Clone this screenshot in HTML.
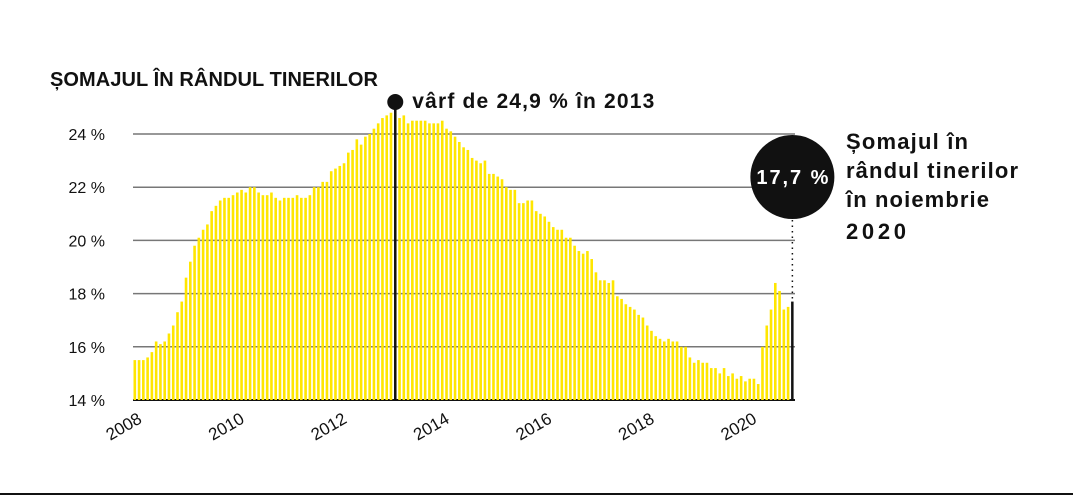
<!DOCTYPE html>
<html><head><meta charset="utf-8"><style>
body{margin:0;background:#fff;width:1073px;height:498px;overflow:hidden;font-family:"Liberation Sans",sans-serif}
</style></head><body>
<svg width="1073" height="498">
<text x="50" y="86" font-size="20" font-weight="bold" fill="#111" textLength="328">ȘOMAJUL ÎN RÂNDUL TINERILOR</text>
<g id="grid"></g><g id="bars"></g><g id="ylabels"></g><g id="xlabels"></g>
<line x1="0" y1="494" x2="1073" y2="494" stroke="#111" stroke-width="2"/>
<g id="ann"></g>
<text font-size="22" font-weight="bold" fill="#111"><tspan x="846" y="149" textLength="122">Șomajul în</tspan><tspan x="846" y="178" textLength="172">rândul tinerilor</tspan><tspan x="846" y="207" textLength="143">în noiembrie</tspan><tspan x="846" y="239" textLength="60">2020</tspan></text>
</svg>
<script>
const years=["2008","2009","2010","2011","2012","2013","2014","2015","2016","2017","2018","2019","2020"];
const yTicks=[14,16,18,20,22,24];
const yearLabels=["2008","2010","2012","2014","2016","2018","2020"];
const values=[15.5,15.5,15.5,15.6,15.8,16.2,16.1,16.2,16.5,16.8,17.3,17.7,
18.6,19.2,19.8,20.1,20.4,20.6,21.1,21.3,21.5,21.6,21.6,21.7,
21.8,21.9,21.8,22.0,22.0,21.8,21.7,21.7,21.8,21.6,21.5,21.6,
21.6,21.6,21.7,21.6,21.6,21.7,22.0,22.0,22.2,22.2,22.6,22.7,
22.8,22.9,23.3,23.4,23.8,23.6,23.9,24.0,24.2,24.4,24.6,24.7,
24.8,24.9,24.6,24.7,24.4,24.5,24.5,24.5,24.5,24.4,24.4,24.4,
24.5,24.2,24.1,23.9,23.7,23.5,23.4,23.1,23.0,22.9,23.0,22.5,
22.5,22.4,22.3,22.0,21.9,21.9,21.4,21.4,21.5,21.5,21.1,21.0,
20.9,20.7,20.5,20.4,20.4,20.1,20.1,19.8,19.6,19.5,19.6,19.3,
18.8,18.5,18.5,18.4,18.5,17.9,17.8,17.6,17.5,17.4,17.2,17.1,
16.8,16.6,16.4,16.3,16.2,16.3,16.2,16.2,16.0,16.0,15.6,15.4,
15.5,15.4,15.4,15.2,15.2,15.0,15.2,14.9,15.0,14.8,14.9,14.7,
14.8,14.8,14.6,16.0,16.8,17.4,18.4,18.1,17.4,17.5,17.7];
const peakValue=24.9, peakLabel="vârf de 24,9 % în 2013", lastLabel="17,7 %";
const NS="http://www.w3.org/2000/svg";
const x0=133,step=4.27,yb=400;
const y=v=>yb-(v-14)*26.6;
const x=i=>x0+i*step;
function mk(t,a,p){const e=document.createElementNS(NS,t);for(const k in a)e.setAttribute(k,a[k]);document.getElementById(p).appendChild(e);return e;}
yTicks.forEach(t=>{
 const l=mk('line',{x1:x0,x2:795,y1:y(t),y2:y(t),stroke:t==14?'#111':'#777','stroke-width':t==14?2:1.5},'grid');
 
 
 const tx=mk('text',{x:105,y:y(t)+6,'text-anchor':'end','font-size':16,fill:'#111'},'ylabels');
 tx.textContent=t+' %';
 
 
});
values.forEach((v,i)=>{
 const last=i==values.length-1;
 const r=mk('rect',{x:x(i)+0.5,y:y(v),width:last?2.5:2.6,height:yb-y(v),fill:last?'#111':'#ffe600'},'bars');
 
 
});
yearLabels.forEach(l=>{
 const i=years.indexOf(l)*12;
 const xx=x(i)+10, yy=yb+22;
 const t=mk('text',{x:xx,y:yy,'text-anchor':'end','font-size':17,fill:'#111',transform:`rotate(-30 ${xx} ${yy})`},'xlabels');
 t.textContent=l;
 
 
});
const pi=values.indexOf(peakValue), px=x(pi)+1.8;
const pl=mk('line',{x1:px,x2:px,y1:102,y2:yb,stroke:'#111','stroke-width':2.5},'ann');


const pc=mk('circle',{cx:px,cy:102,r:8,fill:'#111'},'ann');


const pt=mk('text',{x:px+17,y:108,'font-size':21,'font-weight':'bold',fill:'#111',textLength:242},'ann');
pt.textContent=peakLabel;


const li=values.length-1, lx=x(li)+1.8;
const dl=mk('line',{x1:lx,x2:lx,y1:220,y2:y(values[li]),stroke:'#111','stroke-width':1.5,'stroke-dasharray':'1.5 4'},'ann');


const lc=mk('circle',{cx:lx,cy:177,r:42,fill:'#111'},'ann');


const lt=mk('text',{x:lx,y:184,'text-anchor':'middle','font-size':20,'font-weight':'bold',fill:'#fff',textLength:72},'ann');
lt.textContent=lastLabel;


</script>
</body></html>
